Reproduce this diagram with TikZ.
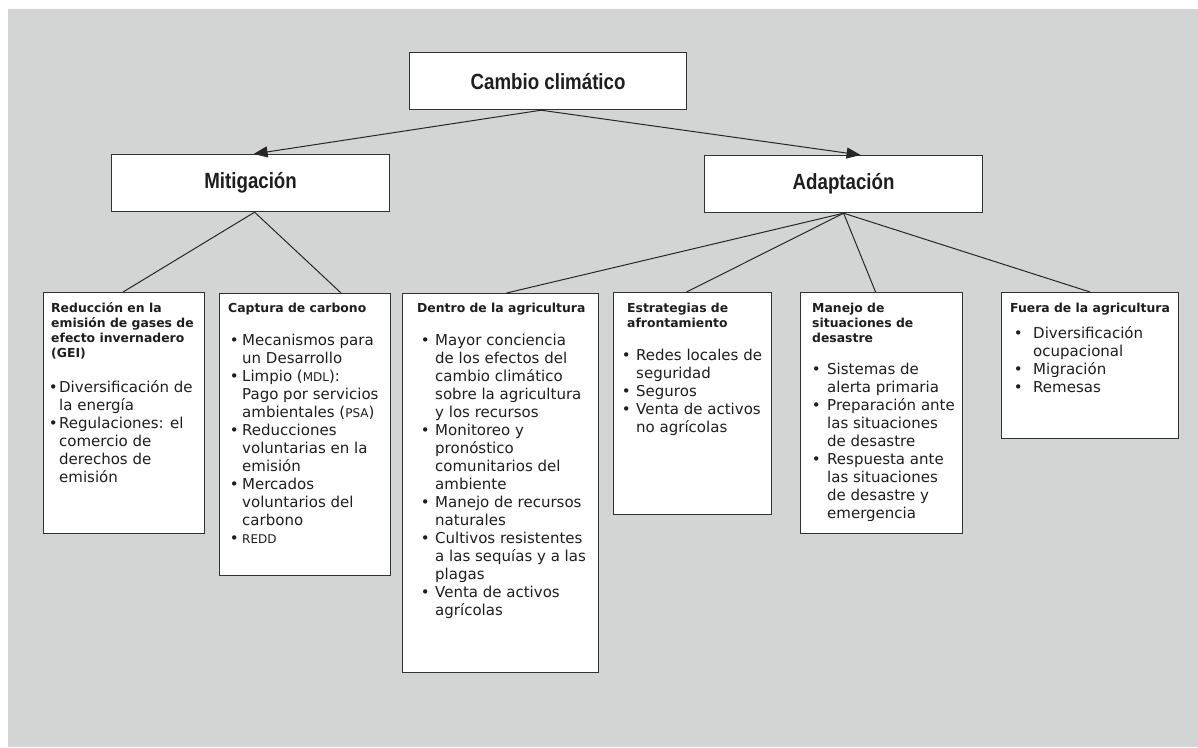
\documentclass[tikz,border=0pt]{standalone}
\usepackage{fontspec}
\usetikzlibrary{arrows.meta}
\newfontfamily\vf{DejaVu Sans}
\newfontfamily\nar[FakeStretch=0.85]{Liberation Sans}
\definecolor{bgc}{RGB}{211,213,212}
\definecolor{boxline}{RGB}{50,50,50}
\definecolor{txt}{RGB}{30,30,30}
\newcommand\itm[1]{\makebox[#1][l]{•}}
\newcommand\smc[1]{{\fontsize{12}{18}\selectfont #1}}
\tikzset{
  topbox/.style={draw=boxline, line width=1.2pt, fill=white, anchor=north west, inner sep=0pt,
    font=\nar\bfseries\fontsize{22}{26}\selectfont, text=txt},
  leafbox/.style={draw=boxline, line width=1.1pt, fill=white, anchor=north west, inner sep=0pt},
  ttl/.style={anchor=base west, inner sep=0pt, font=\vf\bfseries\fontsize{12.4}{15}\selectfont, text=txt},
  lst/.style={anchor=base west, inner sep=0pt, font=\vf\fontsize{15}{18}\selectfont, text=txt},
  conn/.style={line width=1pt, draw=black!85},
  arr/.style={conn, -{Triangle[length=14pt,width=11pt]}}
}
\begin{document}
\begin{tikzpicture}[x=1pt,y=-1pt]
\useasboundingbox (0,0) rectangle (1198,747);
\fill[bgc] (8,9) rectangle (1198,747);

% top level
\node[topbox, minimum width=277pt, minimum height=57pt] (cc) at (409,52) {Cambio climático};
\node[topbox, minimum width=278pt, minimum height=57pt] (mit) at (111,154) {Mitigación};
\node[topbox, minimum width=278pt, minimum height=57pt] (ad) at (704,155) {Adaptación};

% leaf boxes
\node[leafbox, minimum width=161pt, minimum height=241pt] (b1) at (43,292) {};
\node[leafbox, minimum width=171pt, minimum height=282pt] (b2) at (219,293) {};
\node[leafbox, minimum width=196pt, minimum height=379pt] (b3) at (402,293) {};
\node[leafbox, minimum width=158pt, minimum height=222pt] (b4) at (613,292) {};
\node[leafbox, minimum width=162pt, minimum height=241pt] (b5) at (800,292) {};
\node[leafbox, minimum width=177pt, minimum height=146pt] (b6) at (1001,292) {};

% connectors
\draw[arr] ([xshift=-7pt]cc.south) -- ([xshift=3pt]mit.north);
\draw[arr] ([xshift=-7pt]cc.south) -- ([xshift=17pt]ad.north);
\draw[conn] ([xshift=4pt]mit.south) -- ([xshift=-1pt]b1.north);
\draw[conn] ([xshift=4pt]mit.south) -- ([xshift=36pt]b2.north);
\draw[conn] (ad.south) -- ([xshift=6pt]b3.north);
\draw[conn] (ad.south) -- ([xshift=-6pt]b4.north);
\draw[conn] (ad.south) -- ([xshift=-6pt]b5.north);
\draw[conn] (ad.south) -- (b6.north);

% box 1
\node[ttl] (t1) at (51,312) {\begin{tabular}[t]{@{}l@{}}Reducción en la\\emisión de gases de\\efecto invernadero\\(GEI)\end{tabular}};
\node[lst] (l1) at (48.7,392) {\begin{tabular}[t]{@{}l@{}l@{}}
\itm{10.3pt} & Diversificación de\\
 & la energía\\
\itm{10.3pt} & Regulaciones: el\\
 & comercio de\\
 & derechos de\\
 & emisión
\end{tabular}};

% box 2
\node[ttl] (t2) at (228,312) {\begin{tabular}[t]{@{}l@{}}Captura de carbono\end{tabular}};
\node[lst] (l2) at (229.7,345) {\begin{tabular}[t]{@{}l@{}l@{}}
\itm{12.3pt} & Mecanismos para\\
 & un Desarrollo\\
\itm{12.3pt} & Limpio (\smc{MDL}):\\
 & Pago por servicios\\
 & ambientales (\smc{PSA})\\
\itm{12.3pt} & Reducciones\\
 & voluntarias en la\\
 & emisión\\
\itm{12.3pt} & Mercados\\
 & voluntarios del\\
 & carbono\\
\itm{12.3pt} & \smc{REDD}
\end{tabular}};

% box 3
\node[ttl] (t3) at (417,312) {\begin{tabular}[t]{@{}l@{}}Dentro de la agricultura\end{tabular}};
\node[lst] (l3) at (420.7,345) {\begin{tabular}[t]{@{}l@{}l@{}}
\itm{14.3pt} & Mayor conciencia\\
 & de los efectos del\\
 & cambio climático\\
 & sobre la agricultura\\
 & y los recursos\\
\itm{14.3pt} & Monitoreo y\\
 & pronóstico\\
 & comunitarios del\\
 & ambiente\\
\itm{14.3pt} & Manejo de recursos\\
 & naturales\\
\itm{14.3pt} & Cultivos resistentes\\
 & a las sequías y a las\\
 & plagas\\
\itm{14.3pt} & Venta de activos\\
 & agrícolas
\end{tabular}};

% box 4
\node[ttl] (t4) at (627,312) {\begin{tabular}[t]{@{}l@{}}Estrategias de\\afrontamiento\end{tabular}};
\node[lst] (l4) at (621.7,360) {\begin{tabular}[t]{@{}l@{}l@{}}
\itm{14.3pt} & Redes locales de\\
 & seguridad\\
\itm{14.3pt} & Seguros\\
\itm{14.3pt} & Venta de activos\\
 & no agrícolas
\end{tabular}};

% box 5
\node[ttl] (t5) at (812,312) {\begin{tabular}[t]{@{}l@{}}Manejo de\\situaciones de\\desastre\end{tabular}};
\node[lst] (l5) at (811.7,374) {\begin{tabular}[t]{@{}l@{}l@{}}
\itm{15.3pt} & Sistemas de\\
 & alerta primaria\\
\itm{15.3pt} & Preparación ante\\
 & las situaciones\\
 & de desastre\\
\itm{15.3pt} & Respuesta ante\\
 & las situaciones\\
 & de desastre y\\
 & emergencia
\end{tabular}};

% box 6
\node[ttl] (t6) at (1010,312) {\begin{tabular}[t]{@{}l@{}}Fuera de la agricultura\end{tabular}};
\node[lst] (l6) at (1013.7,338) {\begin{tabular}[t]{@{}l@{}l@{}}
\itm{19.3pt} & Diversificación\\
 & ocupacional\\
\itm{19.3pt} & Migración\\
\itm{19.3pt} & Remesas
\end{tabular}};
\end{tikzpicture}
\end{document}
